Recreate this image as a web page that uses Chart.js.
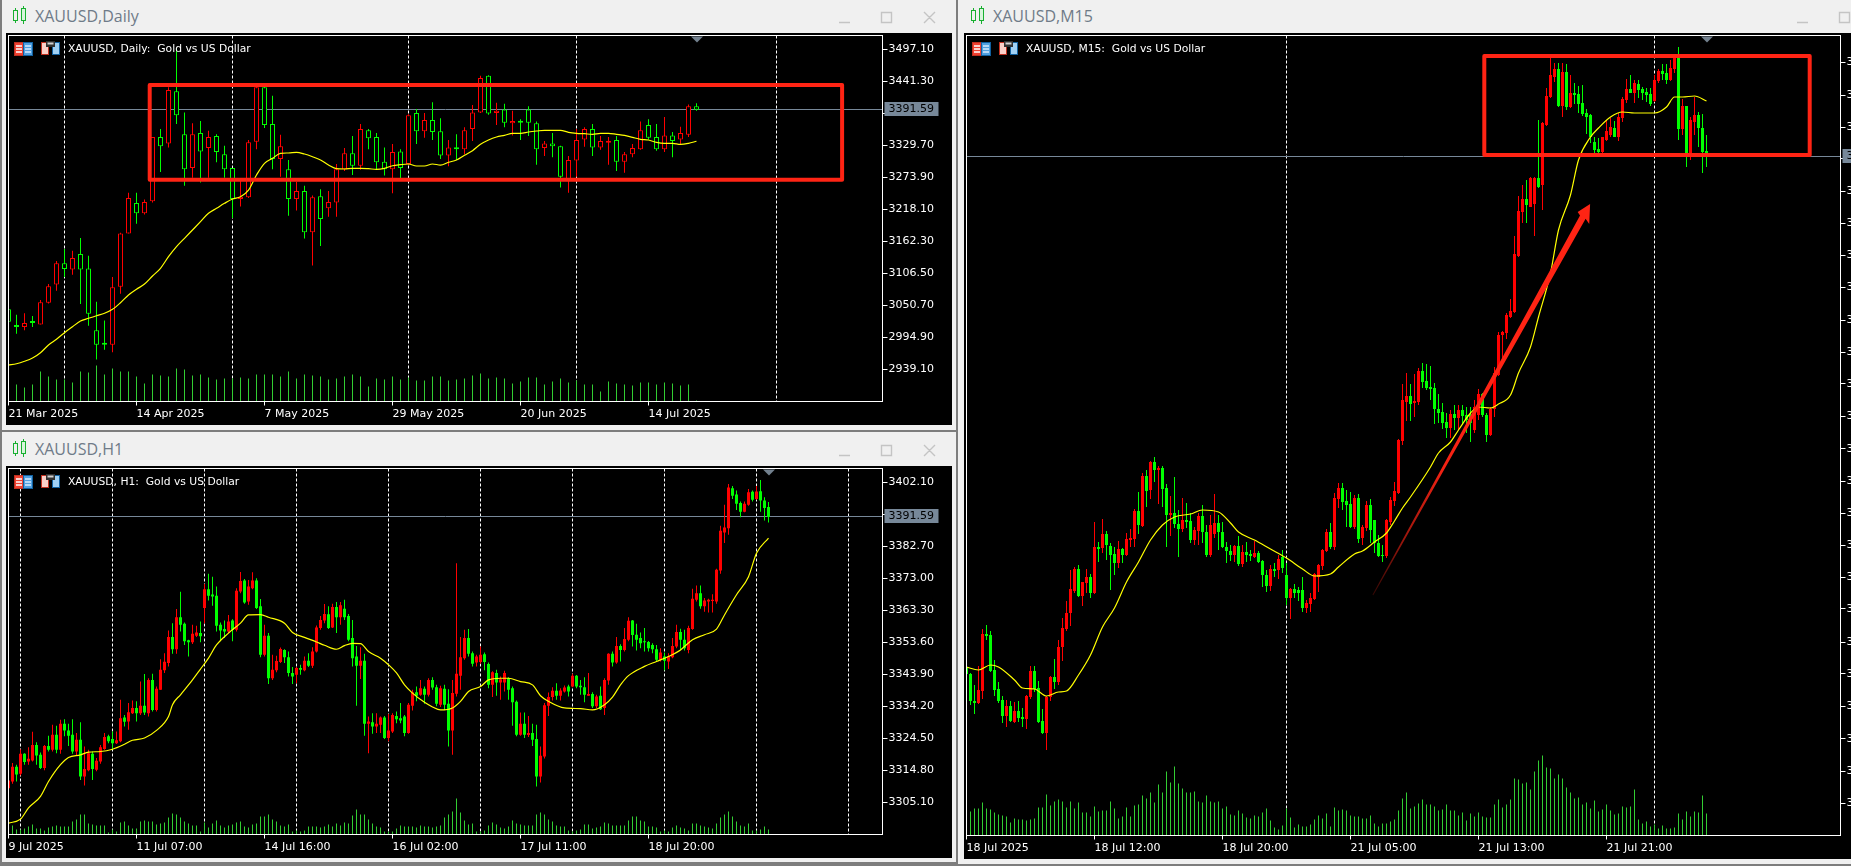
<!DOCTYPE html>
<html>
<head>
<meta charset="utf-8">
<title>XAUUSD</title>
<script src="https://cdn.jsdelivr.net/npm/chart.js@4/dist/chart.umd.js"></script>
<style>
  html, body { margin: 0; padding: 0; width: 1851px; height: 866px; overflow: hidden; background: #f0f0f0; }
  canvas { position: absolute; display: block; }
  .edge { position: absolute; background: #7d7d7d; }
  .title { position: absolute; font: 16px "Open Sans", "Noto Sans", sans-serif; color: #6f7b88; line-height: 20px; white-space: pre; }
  .label { position: absolute; font: 10.75px "DejaVu Sans", sans-serif; color: #fff; line-height: 14px; white-space: pre; }
  svg { position: absolute; overflow: visible; }
</style>
</head>
<body>
<svg width="0" height="0">
  <defs>
    <symbol id="candles" viewBox="0 0 14 18">
      <rect x="0.5" y="4.5" width="4" height="10" fill="none" stroke="#18b030"/>
      <rect x="8.5" y="2.5" width="4" height="12" fill="#d8f5dc" stroke="#18b030"/>
      <path d="M2.5 2V4M2.5 15V17M10.5 0V2M10.5 15V18" stroke="#18b030"/>
    </symbol>
    <symbol id="book" viewBox="0 0 19 14">
      <rect x="0.5" y="0.5" width="9" height="13" fill="#f04030" stroke="#c03020"/>
      <rect x="9.5" y="0.5" width="9" height="13" fill="#50a0e0" stroke="#1060a0"/>
      <path d="M2 4H8M2 7H8M2 10H8" stroke="#fff" stroke-width="1.4"/>
      <path d="M11 4H17M11 7H17M11 10H17" stroke="#d8ecff" stroke-width="1.4"/>
    </symbol>
    <symbol id="save" viewBox="0 0 19 14">
      <rect x="0.5" y="1.5" width="7" height="12" fill="#fbd0c8" stroke="#c03020"/>
      <rect x="11.5" y="1.5" width="7" height="12" fill="#a0d0f4" stroke="#1060a0"/>
      <rect x="5" y="0" width="9" height="6" fill="#303030"/>
      <rect x="6.5" y="1.5" width="6" height="2" fill="#d0d0d0"/>
    </symbol>
  </defs>
</svg>

<div class="edge" style="left:0;top:0;width:2px;height:866px"></div>
<div class="edge" style="left:0;top:430px;width:958px;height:2px"></div>
<div class="edge" style="left:956px;top:0;width:2px;height:866px"></div>
<div class="edge" style="left:0;top:862px;width:958px;height:4px"></div>
<div class="edge" style="left:958px;top:864px;width:893px;height:2px"></div>

<canvas id="dailyChart" width="946" height="392" style="left:6px;top:33px"></canvas>
<canvas id="h1Chart" width="946" height="392" style="left:6px;top:466px"></canvas>
<canvas id="m15Chart" width="887" height="826" style="left:964px;top:33px"></canvas>

<svg style="left:13px;top:6px" width="14" height="18"><use href="#candles"/></svg>
<div class="title" style="left:35px;top:6px">XAUUSD,Daily</div>
<svg style="left:13px;top:439px" width="14" height="18"><use href="#candles"/></svg>
<div class="title" style="left:35px;top:439px">XAUUSD,H1</div>
<svg style="left:971px;top:6px" width="14" height="18"><use href="#candles"/></svg>
<div class="title" style="left:993px;top:6px">XAUUSD,M15</div>

<svg style="left:839px;top:11px" width="100" height="14" stroke="#c4c4c4" stroke-width="1.4" fill="none">
  <path d="M0 11.5H11M42.5 1.5H52.5V11.5H42.5ZM85 1L96 12M96 1L85 12"/>
</svg>
<svg style="left:839px;top:444px" width="100" height="14" stroke="#c4c4c4" stroke-width="1.4" fill="none">
  <path d="M0 11.5H11M42.5 1.5H52.5V11.5H42.5ZM85 1L96 12M96 1L85 12"/>
</svg>
<svg style="left:1797px;top:11px" width="54" height="14" stroke="#c4c4c4" stroke-width="1.4" fill="none">
  <path d="M0 11.5H11M42.5 1.5H52.5V11.5H42.5Z"/>
</svg>

<svg style="left:14px;top:42px" width="19" height="14"><use href="#book"/></svg>
<svg style="left:41px;top:41px" width="19" height="14"><use href="#save"/></svg>
<div class="label" style="left:68px;top:42px">XAUUSD, Daily:  Gold vs US Dollar</div>
<svg style="left:14px;top:475px" width="19" height="14"><use href="#book"/></svg>
<svg style="left:41px;top:474px" width="19" height="14"><use href="#save"/></svg>
<div class="label" style="left:68px;top:475px">XAUUSD, H1:  Gold vs US Dollar</div>
<svg style="left:972px;top:42px" width="19" height="14"><use href="#book"/></svg>
<svg style="left:999px;top:41px" width="19" height="14"><use href="#save"/></svg>
<div class="label" style="left:1026px;top:42px">XAUUSD, M15:  Gold vs US Dollar</div>

<script>
const bidPrice = 3391.59;

// ---- Daily ----
const dailyOpen = [
  3044,3016,3013,3021,3017,3055,3087,3124,3113,3140,
  3115,3007,2983,2982,3083,3176,3229,3211,3232,3344,
  3333,3424,3349,3290,3351,3325,3346,3314,3290,3236,
  3239,3336,3431,3367,3306,3288,3236,3250,3178,3241,
  3220,3230,3288,3316,3294,3356,3344,3301,3288,3319,
  3297,3386,3354,3374,3354,3312,3326,3323,3358,3387,
  3451,3386,3392,3368,3371,3392,3368,3325,3333,3328,
  3269,3303,3340,3358,3326,3334,3339,3301,3314,3323,
  3365,3344,3323,3347,3340,3348,3398];
const dailyHigh = [
  3050,3034,3037,3032,3060,3088,3128,3149,3146,3168,
  3137,3057,3024,3100,3177,3247,3247,3235,3344,3358,
  3431,3499,3387,3368,3372,3355,3349,3329,3290,3269,
  3339,3437,3435,3416,3348,3304,3266,3259,3242,3253,
  3250,3297,3325,3346,3367,3358,3351,3326,3332,3323,
  3384,3393,3386,3405,3377,3339,3349,3361,3400,3451,
  3452,3404,3402,3390,3375,3398,3371,3337,3351,3329,
  3311,3358,3361,3367,3346,3344,3346,3318,3332,3371,
  3375,3367,3379,3353,3362,3401,3403];
const dailyLow = [
  3017,3001,3007,3013,3017,3054,3076,3100,3104,3053,
  3015,2956,2973,2969,3071,3176,3193,3209,3230,3283,
  3326,3367,3259,3273,3265,3273,3300,3273,3203,3223,
  3238,3323,3360,3288,3275,3207,3216,3167,3120,3154,
  3205,3205,3285,3278,3287,3323,3287,3277,3246,3272,
  3296,3332,3343,3339,3306,3293,3304,3314,3337,3386,
  3383,3365,3361,3347,3339,3346,3296,3311,3309,3256,
  3247,3275,3327,3311,3322,3296,3285,3282,3309,3322,
  3340,3320,3318,3309,3332,3344,3390];
const dailyClose = [
  3022,3013,3020,3020,3056,3084,3124,3114,3133,3113,
  3036,2982,2982,3082,3176,3238,3211,3231,3344,3328,
  3426,3382,3288,3349,3319,3344,3318,3288,3236,3240,
  3335,3431,3365,3306,3328,3236,3250,3178,3239,3201,
  3231,3288,3316,3294,3358,3342,3300,3288,3318,3290,
  3382,3354,3374,3353,3312,3326,3323,3356,3387,3447,
  3385,3390,3369,3372,3369,3369,3323,3333,3328,3275,
  3304,3339,3358,3326,3337,3337,3301,3314,3325,3356,
  3343,3323,3347,3337,3351,3398,3391.59];
const dailyMa = [
  2946.5,2948.8,2953,2958.7,2968,2981.4,2991.4,3002.9,3013.3,3023.3,
  3028,3032.5,3036.7,3043.7,3055.2,3068.6,3078.6,3087.8,3101.8,3115.2,
  3135.4,3152.9,3167.5,3182,3196.5,3211.1,3219.8,3228.5,3236,3240.1,
  3251.7,3277.9,3298.3,3307,3315.7,3316.3,3317.5,3314.5,3309.8,3304.1,
  3295.3,3288.9,3288.4,3289.6,3289.6,3288.9,3287.8,3289.6,3294.1,3295.9,
  3297.1,3293.6,3293.6,3297.1,3295.3,3300.1,3304.1,3312.3,3320.3,3331.4,
  3338.9,3344.2,3347.1,3350.6,3350.6,3352.9,3354.6,3355.9,3355.9,3355.9,
  3352.4,3350.6,3349.9,3348.9,3350.6,3350.6,3348.9,3347.1,3343.6,3340.2,
  3338.9,3334.9,3333.2,3333.2,3331.4,3333.2,3336.7];
const dailyMaIndex = dailyMa.map((v, i) => i);
const dailyVolume = [
  20,17,14,17,30,25,22,22,19,30,
  29,36,27,33,30,30,25,18,27,26,
  25,33,32,26,27,24,22,23,23,24,
  23,27,27,27,25,30,23,27,26,25,
  22,23,25,27,25,15,23,22,25,22,
  24,21,21,25,25,21,22,23,26,28,
  23,24,23,18,20,24,24,17,20,23,
  19,21,17,17,10,20,18,17,16,19,
  19,17,19,18,16,17,1];
const dailyPriceTicks = [3497.10,3441.30,3385.50,3329.70,3273.90,3218.10,3162.30,3106.50,3050.70,2994.90,2939.10];
const dailyTimeIndex = [0,16,32,48,64,80];
const dailyTimeLabels = ['21 Mar 2025','14 Apr 2025','7 May 2025','29 May 2025','20 Jun 2025','14 Jul 2025'];
const dailySeparators = [7,28,50,71,96];
const dailyBoxX = [17.65,104.2];
const dailyBoxY = [3434.9,3269.7];

// ---- H1 ----
const h1Open = [
  3309.4,3311.4,3315.9,3313.8,3319.8,3317.5,3317.8,3322.5,3319.5,3315.5,
  3322.2,3321,3325.6,3321,3328.9,3326.9,3325.6,3320.5,3324.1,3312.9,
  3314.8,3319.8,3315,3317.5,3321.3,3325.1,3324.3,3323,3323.6,3330.8,
  3329.6,3332.1,3333.7,3332.1,3334.4,3332.1,3342.2,3333.1,3339.2,3345.1,
  3347.3,3355.2,3351.5,3361.2,3359.2,3354.2,3353.6,3355.6,3356.4,3364,
  3369.7,3368.1,3367.7,3358.9,3357.6,3356.9,3360.2,3357.4,3369,3372.3,
  3366,3370,3372.3,3364.5,3349.8,3355.6,3342.7,3345.1,3347.6,3351.3,
  3349.1,3344.3,3343.8,3345.8,3345.1,3348,3346.5,3350.8,3357.9,3360.2,
  3362.1,3358.1,3364.3,3361.2,3363.8,3361.6,3354.9,3349.3,3346.5,3348,
  3328.9,3329.4,3328.1,3328.6,3330.8,3324.6,3326.6,3331.3,3330.6,3331.1,
  3326.1,3334.4,3338.5,3337.7,3339.5,3337.7,3342.2,3340,3334.7,3339.5,
  3335,3326.9,3338,3343.5,3348.8,3354.9,3350.3,3347.5,3347.6,3350,
  3347,3340.7,3344.3,3341.4,3341.4,3342.7,3339.7,3335.6,3325.6,3328.9,
  3325.5,3326.1,3324.3,3312.9,3319,3334.4,3337,3338.9,3337.4,3338.7,
  3340.2,3340.2,3343.5,3340.4,3340,3337.4,3337.9,3334.2,3337.4,3333.7,
  3342,3350.1,3347.5,3352.5,3351.3,3354.4,3360.2,3355.9,3354.9,3353.7,
  3353.7,3352.8,3351.5,3348.3,3349.3,3347.8,3349.1,3352.3,3356.7,3354.4,
  3351.3,3357.6,3366.5,3368.5,3364.5,3366,3366.1,3366,3375.4,3386.9,
  3388.2,3400.3,3398.4,3395.8,3393.2,3395.3,3399.2,3397,3399.4,3396.6,
  3394.6];
const h1High = [
  3312.4,3317,3316.5,3321.2,3320,3321.8,3326.5,3323.3,3320.2,3322.5,
  3325.3,3328.6,3328.3,3330.1,3330.3,3328.9,3330.3,3326.1,3329.4,3322,
  3321,3320.5,3318.5,3322.5,3326.1,3325.6,3326.6,3326.6,3336.2,3331.6,
  3335.2,3336,3335.7,3341.7,3344,3342.7,3344.1,3340.2,3348.5,3350.3,
  3357.2,3359.4,3363.7,3368.9,3359.6,3354.4,3358.9,3358.6,3359.9,3371.3,
  3374.4,3373.5,3370.5,3359.6,3360.2,3361.9,3360.6,3370,3374.9,3372.8,
  3372.5,3374.8,3373,3366.7,3358.9,3356.4,3349.8,3349.5,3352,3351.5,
  3350.8,3346.1,3346.1,3346.8,3349.3,3350.3,3352.1,3358.7,3361.6,3365.2,
  3364.5,3365.3,3365.8,3365.8,3366.5,3362.2,3360.4,3352.5,3352.1,3350.1,
  3331.1,3332.1,3332.1,3331.1,3331.3,3331.9,3332.1,3332.6,3335.2,3331.6,
  3335.2,3339.2,3340.2,3342.2,3340.2,3342.7,3343,3340.7,3340.4,3340.7,
  3339.4,3342.2,3377.6,3355.2,3357.4,3357.6,3350.8,3349.8,3352.3,3350.5,
  3347.5,3344.8,3345.3,3343.2,3345,3343,3340.2,3336,3332.3,3332.3,
  3331.3,3328.9,3328.6,3322,3335.2,3338.4,3340,3341.2,3339.7,3340.5,
  3340.7,3344.1,3343.7,3342.2,3343,3344.3,3338.5,3337.7,3340.2,3342.7,
  3350.3,3350.8,3355.2,3353,3357.9,3361.2,3360.4,3359.2,3356.6,3357.9,
  3354,3353.3,3352.8,3351.8,3350.5,3350.3,3354.9,3358.9,3357.7,3357.4,
  3358.6,3369.8,3370.8,3370.8,3367,3366.8,3368.2,3375.9,3388.9,3395.3,
  3401.6,3401,3399.6,3396.3,3396.3,3400.1,3399.6,3401,3402.8,3397.6,
  3396.1];
const h1Low = [
  3309.1,3310.7,3311.4,3313.2,3316.5,3316.5,3317.5,3316.5,3315.2,3314.8,
  3320.5,3320.5,3320,3319.8,3325.1,3322.2,3319.8,3319.2,3311.9,3310.2,
  3314.5,3311.9,3314.5,3316.8,3321,3323,3321.2,3322.8,3323.3,3328.1,
  3327.1,3331.9,3329.6,3331.6,3331.6,3331.1,3332.6,3332.6,3339.2,3344.3,
  3346.3,3350.1,3350.1,3356.9,3352.8,3349.3,3353.1,3355.2,3353.6,3359.4,
  3366.3,3364.7,3356.9,3353.9,3354.9,3356.4,3353.9,3356.9,3368.5,3365.3,
  3365,3369.7,3363.7,3349.1,3349.3,3341,3342.2,3344.5,3347.3,3347.3,
  3343.2,3341,3341.2,3343.8,3344.8,3346.1,3345.8,3350.5,3357.4,3359.4,
  3357.6,3357.9,3356.4,3358.9,3360.4,3353.9,3346.3,3334.4,3342.5,3325.3,
  3320,3325.9,3326.1,3326.1,3324.3,3323.6,3326.1,3329.1,3329.1,3325.1,
  3325.9,3332.9,3335.7,3337.4,3335,3337.2,3339.2,3334.2,3334,3333.1,
  3322,3319.5,3337.2,3339.2,3348.3,3349.3,3346.3,3346.3,3347.1,3345.1,
  3339.7,3337,3337.4,3336.2,3338.7,3336.2,3328.3,3325.1,3325.3,3324.6,
  3324.9,3322.2,3309.9,3311.1,3318.4,3331.3,3336,3336.2,3336,3338.4,
  3337.2,3340,3339.7,3337.7,3335.4,3337.4,3333.7,3333.7,3333.1,3331.6,
  3340.7,3346.3,3347.1,3347.8,3350.8,3353.9,3352.3,3351.1,3351.8,3350.8,
  3350.8,3350.3,3347.8,3347.8,3345.1,3345.5,3348.8,3351.8,3351.3,3351.1,
  3350.3,3357.4,3366,3363.8,3362.9,3362.6,3362.6,3365.3,3374.4,3383.7,
  3386.2,3397,3393.7,3391.5,3393,3395,3396.3,3396.8,3393.2,3390.5,
  3389.9];
const h1Close = [
  3311.7,3315.9,3313.5,3319.8,3317.3,3318.3,3322.5,3319.3,3315.5,3322.2,
  3321,3325.6,3321,3328.9,3326.9,3325.3,3320.5,3324.1,3312.9,3315.2,
  3320,3315.2,3317.7,3321.8,3324.9,3323.6,3323,3323.9,3330.6,3329.5,
  3332.4,3333.7,3332.1,3334.4,3332.3,3342.2,3333.1,3339.5,3345.3,3347.7,
  3355.2,3351.5,3361.2,3358.9,3353.9,3353.6,3356.2,3356.6,3355.4,3369.7,
  3367.7,3367.5,3358.6,3357.2,3356.9,3359.9,3357.4,3369.2,3372.2,3365.7,
  3370.5,3372.3,3364,3349.8,3355.6,3342.7,3345.3,3347.9,3351.6,3349.1,
  3344.3,3343.2,3345.8,3345.3,3348,3346.5,3350.8,3358.1,3360.4,3362.2,
  3357.9,3364.3,3361.2,3364.8,3361.2,3354.4,3348.8,3346.5,3348,3328.9,
  3329.6,3328.1,3328.9,3330.8,3324.6,3326.9,3331.6,3330.3,3329.9,3326.1,
  3334.7,3338.5,3337.4,3339.7,3337.7,3342.2,3339.9,3335,3339.7,3334.7,
  3326.9,3338.2,3344.1,3349.1,3354.9,3350.1,3347.1,3349.3,3349.8,3347.6,
  3340.7,3344.5,3341.4,3342.4,3344.3,3339.2,3335.4,3325.6,3328.9,3325.6,
  3326.1,3324.1,3312.9,3319.2,3334.5,3337,3338.9,3337.4,3339,3339.9,
  3338.7,3343.5,3340.2,3340,3337.7,3337.9,3334.2,3337.2,3333.3,3342.2,
  3350.1,3347.5,3352.5,3351.3,3354.6,3360.1,3355.8,3354.4,3353.3,3353.6,
  3351.8,3351.5,3348.3,3350.5,3348,3349.3,3352.5,3356.7,3354.4,3351.8,
  3357.9,3366.8,3368.5,3364.5,3366.3,3366.5,3366.5,3375.6,3387.4,3388.4,
  3400.5,3398,3395.6,3393.2,3395.6,3399.1,3396.8,3399.3,3396.6,3394.3,
  3391.59];
const h1MaIndex = [
  0,3,5,8,10,13,15,18,20,23,26,29,31,34,37,40,41,43,46,48,
  50,52,55,58,60,63,65,69,71,74,77,79,82,84,86,88,90,93,95,97,
  99,101,104,106,108,111,113,115,118,120,123,125,128,131,133,135,139,143,146,149,
  151,153,155,159,162,165,168,171,174,177,179,182,185,187,190];
const h1Ma = [
  3298.8,3300,3303.4,3306.9,3311.4,3316.5,3318.7,3319.5,3320.3,3320.5,3321.2,3322.7,3323.9,3324.6,3326.9,3331.1,3334.7,3337.7,3342.2,3345.5,
  3348.8,3352.8,3356.4,3359.4,3361.9,3362,3361.2,3359.4,3356.6,3355.1,3353.7,3352.7,3351.5,3352.6,3353.3,3353.2,3350.8,3348.8,3346.8,3344.3,
  3340.7,3338.2,3335.4,3334,3333.1,3333.7,3335.7,3338.7,3340.2,3342.2,3342.7,3342.7,3341.7,3340.7,3337.4,3335.7,3333.7,3333.5,3333.1,3334.7,
  3337,3340.7,3343.5,3346.3,3347.8,3349.3,3351.3,3354.4,3355.9,3357.6,3361.9,3368,3373.5,3380.6,3385.2];
const h1Volume = [
  5,9,5,5,6,8,10,6,6,4,7,
  8,9,8,8,8,13,15,20,20,11,
  10,9,9,9,2,5,3,12,13,9,
  6,6,13,14,13,13,10,11,12,17,
  21,20,17,13,11,9,9,3,12,7,
  11,14,9,7,9,10,12,13,8,7,
  10,11,18,18,20,15,13,9,8,10,
  3,4,3,4,8,8,8,7,8,10,
  8,11,9,12,11,19,25,20,20,15,
  11,8,7,3,3,3,6,9,8,8,
  8,7,9,8,8,7,8,9,17,20,
  23,36,22,14,10,11,3,
  3,4,9,12,10,7,6,8,14,11,
  10,9,9,9,20,22,20,15,13,9,
  8,8,4,3,4,5,10,10,6,7,
  8,12,11,9,9,9,9,14,18,18,
  14,13,8,8,7,3,4,3,7,9,
  7,6,4,11,11,9,8,7,6,11,
  17,20,23,18,13,9,8,11,4,4,
  5,8,5];
const h1PriceTicks = [3402.10,3392.40,3382.70,3373.00,3363.30,3353.60,3343.90,3334.20,3324.50,3314.80,3305.10];
const h1TimeIndex = [0,32,64,96,128,160];
const h1TimeLabels = ['9 Jul 2025','11 Jul 07:00','14 Jul 16:00','16 Jul 02:00','17 Jul 11:00','18 Jul 20:00'];
const h1Separators = [3,26,49,72,95,118,141,164,187,210];

// ---- M15 ----
const m15Open = [
  3340.5,3339.8,3337.1,3336.9,3338.1,3343.8,3343.7,3340.2,3338.3,3337.2,
  3335.6,3336.6,3335,3336.1,3335.5,3335.3,3337.5,3340.1,3338.4,3335.1,
  3333.9,3337.5,3339.5,3339,3342.5,3344.3,3345.9,3348.1,3350.3,3347.6,
  3348.9,3349.5,3347.9,3352.5,3352.4,3353.8,3352.6,3351.8,3350.9,3352.3,
  3351.7,3353.2,3353.3,3356.1,3354.6,3359.6,3358.2,3361,3360.2,3360.4,
  3358.4,3355.7,3355.9,3354.8,3354.3,3355.2,3355.1,3353.2,3354.1,3355.6,
  3354,3351.7,3353.8,3354.9,3354,3352.5,3352.1,3351.7,3352.6,3350.8,
  3352,3351.8,3351.5,3351.9,3351.1,3349.7,3348.6,3350.3,3350.2,3351.5,
  3349.7,3347.4,3348.3,3348.2,3348.2,3346.4,3346.8,3347.3,3349.5,3350.6,
  3352.1,3354,3352.5,3357.3,3358.4,3357.1,3356.8,3354.5,3357.4,3353.4,
  3354.4,3356.7,3355.2,3352.9,3351.7,3351.6,3355,3357.1,3357.9,3363.1,
  3367,3367.6,3366.9,3367,3370.1,3369.1,3368.5,3368.4,3366.3,3366,
  3365,3364.4,3365.8,3365.4,3366.2,3365.7,3365.7,3364.2,3365.7,3367.8,
  3365.7,3363.7,3366.3,3369.7,3373.7,3373.9,3375.5,3376,3381.6,3386,
  3387.3,3386.5,3386.8,3389.4,3388.7,3394.7,3397.5,3399.5,3400.3,3396.6,
  3400,3396.5,3397.9,3397.8,3396.9,3395.9,3395.7,3393,3392.3,3392,
  3393.2,3393.7,3394.4,3393.5,3395.4,3397.2,3398.3,3397.9,3398.8,3398.3,
  3398,3397.8,3397.1,3399.1,3400.1,3399.9,3399.2,3400.3,3401.5,3394.3,
  3396.6,3391.9,3395,3395.7,3394.4,3392.1];
const m15High = [
  3340.6,3339.9,3338.7,3340.6,3344.3,3344.7,3344.1,3341.2,3339,3337.6,
  3337.2,3337.1,3337,3337.1,3336.4,3337.7,3340.6,3340.6,3339.1,3336.3,
  3337.6,3339.6,3341.3,3343.2,3345.4,3347.1,3350.2,3350.5,3350.7,3349,
  3350.3,3349.8,3355,3353,3355.3,3354.1,3352.9,3352.5,3353.1,3352.4,
  3353.9,3354.3,3356.3,3358,3359.9,3360.2,3361.1,3361.5,3360.6,3360.6,
  3358.8,3357.6,3359.5,3356.2,3357.4,3356.9,3355.9,3354.5,3355.9,3356.7,
  3354.7,3355.7,3357.8,3355.7,3355,3353,3352.7,3352.7,3353.6,3352.7,
  3353,3352.2,3353.1,3352.1,3351.2,3350.2,3350.7,3350.9,3351.7,3352.2,
  3350.9,3348.4,3348.8,3348.5,3349.5,3347.2,3347.9,3349.9,3350.8,3352.3,
  3354.3,3354.9,3357.9,3358.9,3358.9,3358.2,3358,3357.7,3357.8,3354.7,
  3357.1,3357.3,3355.2,3353.7,3352.7,3355.3,3357.5,3359,3363.3,3368.8,
  3369.9,3368.8,3369.8,3370.4,3370.9,3370.8,3370.6,3368.9,3367.8,3366.9,
  3365.9,3366.2,3366.7,3366.7,3366.7,3366.5,3366.5,3367.2,3368.3,3367.9,
  3365.9,3366.5,3370.5,3374,3374.1,3375.9,3377.3,3383.6,3387.6,3388.7,
  3389.2,3389.5,3389.5,3395.2,3395,3398.4,3401.5,3400.9,3400.9,3400.9,
  3400.8,3399.7,3398.9,3398.6,3398.7,3396.3,3395.8,3393.5,3393.4,3393.5,
  3395.2,3395.4,3395.1,3395.9,3397.5,3399.3,3399.7,3399.2,3399.2,3398.5,
  3398.4,3398.4,3399.7,3400.3,3400.8,3400.8,3401.2,3401.7,3402.5,3397.3,
  3396.6,3395.5,3397.5,3396,3395.8,3393.7];
const m15Low = [
  3338.9,3336.7,3335.8,3336.8,3337.3,3343.2,3340,3337.6,3336.9,3334.9,
  3334.5,3335,3334.9,3335,3334.5,3334.3,3337.3,3338,3334.9,3333.8,
  3332.2,3337.1,3338.3,3338.7,3341.1,3344.1,3344.6,3347.9,3347.5,3346.6,
  3347.9,3347.4,3347.8,3351,3351.9,3351.2,3348.2,3349.7,3350.4,3350.9,
  3351.6,3352.5,3352.5,3353.8,3354.5,3356.5,3357.3,3359,3356.8,3356.5,
  3352.5,3353.6,3354.4,3351.5,3354,3354.4,3352.9,3352.7,3352.7,3352.9,
  3351.5,3351.5,3353.4,3352.2,3352.4,3350.9,3351.1,3351,3350.6,3350.5,
  3351,3351.1,3351.4,3350.9,3348.5,3348,3348.1,3349.5,3349.3,3349.9,
  3346.7,3345.3,3347.4,3347.1,3346,3345.9,3346,3347.2,3348,3350.2,
  3352,3352.3,3352.2,3356.4,3356.2,3354.5,3354.4,3354.3,3352.9,3352.7,
  3354.1,3352.9,3351.9,3351.5,3351,3351.4,3354.7,3356.6,3357.8,3362.7,
  3365.1,3365.1,3365.5,3366.7,3368.4,3368.2,3367.2,3364.8,3364.9,3364.3,
  3363.4,3363.4,3364.2,3364.2,3364.7,3363.9,3363,3363.9,3365.2,3365.5,
  3363,3363.6,3365.5,3369.6,3371.4,3373.3,3375.4,3375.9,3381.5,3384.9,
  3384.9,3386.5,3383.6,3388.4,3386.2,3394.6,3397.4,3399,3396.5,3395.5,
  3396.2,3396.4,3396.8,3395.9,3395.6,3393.8,3392.9,3391.5,3391.9,3391.9,
  3393.1,3393.5,3393.5,3393.1,3395,3396.9,3397.9,3396.9,3397.4,3397.2,
  3397,3396.6,3397,3398.9,3399.2,3398.8,3399.1,3399.9,3393.2,3393.7,
  3390.5,3391.2,3393.7,3392.5,3389.9,3390.5];
const m15Close = [
  3339.8,3337.1,3336.9,3338.2,3343.8,3343.6,3340.1,3338.2,3337.1,3335.6,
  3336.6,3335.1,3336.1,3335.4,3335.3,3337.6,3340.1,3338.3,3335,3333.9,
  3337.5,3339.5,3339,3342.5,3344.4,3345.9,3348.3,3350.3,3347.6,3349,
  3349.5,3347.9,3352.5,3352.3,3353.8,3352.7,3351.7,3350.9,3352.3,3351.7,
  3353.3,3353.4,3356.1,3354.7,3359.6,3358.1,3361,3360.2,3360.4,3358.3,
  3355.7,3355.9,3354.8,3354.3,3355.2,3355,3353.2,3354.2,3355.6,3354,
  3351.7,3354.7,3354.9,3354,3352.5,3352.1,3351.7,3352.6,3350.8,3352,
  3351.7,3351.6,3351.9,3351,3349.7,3348.6,3350.3,3350.1,3351.3,3350.4,
  3347.4,3348.3,3347.9,3347.9,3346.4,3346.9,3347.4,3349.8,3350.7,3352.2,
  3354,3352.5,3357.4,3358.4,3357,3356.7,3354.5,3357.4,3353.3,3354.5,
  3356.7,3354.2,3352.9,3351.6,3351.6,3355.2,3357.2,3358.1,3363.2,3367.2,
  3367.6,3366.8,3367.1,3370.1,3369,3368.4,3368.3,3366.3,3365.9,3364.9,
  3364.4,3365.8,3365.4,3366.2,3365.6,3365.2,3364.9,3366.5,3367.8,3365.7,
  3363.7,3366.3,3369.9,3373.7,3374,3375.7,3376.1,3381.8,3386.1,3387.3,
  3386.7,3389.4,3389.4,3388.5,3394.9,3397.6,3399.7,3400.3,3396.6,3400,
  3396.5,3397.9,3397.7,3396.8,3395.8,3395.5,3393.5,3392.2,3392,3393.5,
  3394.1,3394.5,3393.5,3395.5,3397.3,3398.3,3397.9,3398.9,3398.2,3397.9,
  3397.7,3396.8,3399.2,3400.1,3399.8,3399.2,3400.4,3401.5,3394.3,3396.6,
  3391.9,3395.2,3395.7,3394.4,3392,3391.59];
const m15MaIndex = [
  0,3,6,8,12,14,17,20,23,25,28,31,34,37,40,43,46,49,52,56,
  59,63,66,68,72,76,80,84,87,91,93,97,99,102,105,107,109,111,116,118,
  121,123,126,128,131,133,136,138,141,143,146,148,151,153,156,158,161,164,167,172,
  175,177,179,182,185];
const m15Ma = [
  3340.5,3340.2,3340.7,3340.5,3339.2,3338.4,3338.3,3337.6,3338,3338.1,3339.7,3341.7,3344.5,3346.4,3349,3351,3353.2,3354.7,3355.5,3355.8,
  3356.2,3356,3354.9,3354,3353.2,3352.3,3351.4,3350.3,3349.6,3349.8,3350.5,3351.8,3352.1,3353,3353.9,3355.1,3356.4,3357.5,3360.5,3361.9,
  3363,3364.2,3365.9,3366.5,3366.4,3366.8,3367.7,3369.9,3372.5,3375.5,3379.9,3384.2,3387.7,3391.2,3393.5,3394.4,3395.5,3396,3395.9,3395.9,
  3396.5,3397.5,3397.5,3397.6,3397.1];
const m15Volume = [
  20,24,27,27,33,27,26,23,21,20,19,
  13,17,16,16,15,16,17,28,28,41,
  30,34,36,34,28,34,27,33,23,23,
  19,29,24,25,25,34,27,17,19,28,
  19,30,31,40,37,43,33,51,43,64,
  53,69,52,47,43,43,44,34,33,40,
  34,33,34,27,29,21,20,25,22,18,
  17,20,19,23,27,15,8,6,10,27,
  18,8,11,9,9,11,16,20,17,22,
  9,28,25,26,25,20,19,19,17,17,
  20,12,9,12,12,14,16,25,37,43,
  27,29,32,36,31,31,29,25,26,31,
  25,25,20,23,15,22,19,23,19,18,
  18,31,36,28,31,36,57,56,52,53,
  46,64,75,80,68,67,57,61,57,48,
  43,37,38,31,33,27,35,24,26,31,
  25,21,22,29,28,29,46,16,12,14,
  9,11,7,10,7,7,8,22,16,24,
  19,24,23,40,22];
const m15PriceTicks = [3401,3397.7,3394.5,3391.3,3388.1,3384.9,3381.7,3378.5,3375.2,3372,3368.8,3365.6,3362.3,3359.1,3355.9,3352.7,3349.5,3346.3,3343,3339.8,3336.6,3333.3,3330.1,3326.9];
const m15TimeIndex = [0,32,64,96,128,160];
const m15TimeLabels = ['18 Jul 2025','18 Jul 12:00','18 Jul 20:00','21 Jul 05:00','21 Jul 13:00','21 Jul 21:00'];
const m15Separators = [80,172];
const m15BoxX = [129.45,210.8];
const m15BoxY = [3401.6,3391.7];
const m15ArrowX = [101.6,155.9];
const m15ArrowY = [3347.7,3386.8];

const RED = '#ff0000', GREEN = '#00ff00', BOX_RED = '#ff2414';
const AXIS_FONT = { family: '"DejaVu Sans", sans-serif', size: 11 };

// dashed period lines, bid line and the rest of the terminal furniture, placed through the scales
const terminalPlugin = {
  id: 'terminal',
  beforeDatasetsDraw(chart, args, o) {
    const { ctx, chartArea: a, scales: { x, y } } = chart;
    ctx.save();
    ctx.strokeStyle = '#fff';
    ctx.lineWidth = 1;
    ctx.setLineDash([3, 2]);
    o.separators.forEach(v => {
      const px = Math.floor(x.getPixelForValue(v)) + 0.5;
      ctx.beginPath();
      ctx.moveTo(px, a.top);
      ctx.lineTo(px, a.bottom);
      ctx.stroke();
    });
    ctx.setLineDash([]);
    const by = Math.floor(y.getPixelForValue(bidPrice)) + 0.5;
    ctx.strokeStyle = '#778899';
    ctx.beginPath();
    ctx.moveTo(a.left, by);
    ctx.lineTo(a.right, by);
    ctx.stroke();
    ctx.restore();
  },
  afterDatasetsDraw(chart, args, o) {
    const { ctx, chartArea: a, scales: { x, y } } = chart;
    ctx.save();
    if (o.arrowX) drawArrow(ctx, x, y, o.arrowX, o.arrowY);
    ctx.strokeStyle = '#fff';
    ctx.lineWidth = 1;
    ctx.strokeRect(a.left, a.top, a.right - a.left, a.bottom - a.top);
    // bid price tag
    const by = Math.floor(y.getPixelForValue(bidPrice)) + 0.5;
    ctx.fillStyle = '#778899';
    ctx.fillRect(a.right + 2, by - 7.5, 54, 14);
    ctx.fillStyle = '#000';
    ctx.font = '11px "DejaVu Sans", sans-serif';
    ctx.textBaseline = 'middle';
    ctx.fillText(bidPrice.toFixed(2), a.right + 6, by);
    // shift marker over the last bar
    const tx = Math.round(x.getPixelForValue(o.lastIndex));
    ctx.fillStyle = '#72808e';
    ctx.beginPath();
    ctx.moveTo(tx - 6, a.top + 1);
    ctx.lineTo(tx + 6, a.top + 1);
    ctx.lineTo(tx, a.top + 7);
    ctx.closePath();
    ctx.fill();
    ctx.restore();
  }
};

function drawArrow(ctx, x, y, ax, ay) {
  const x0 = x.getPixelForValue(ax[0]), y0 = y.getPixelForValue(ay[0]);
  const x1 = x.getPixelForValue(ax[1]), y1 = y.getPixelForValue(ay[1]);
  const len = Math.hypot(x1 - x0, y1 - y0);
  const ux = (x1 - x0) / len, uy = (y1 - y0) / len, nx = -uy, ny = ux;
  const at = (d, w) => [x0 + ux * d + nx * w, y0 + uy * d + ny * w];
  const headBase = len - 15;
  const pts = [at(0, 0.5), at(headBase, 3.2), at(headBase - 3, 9), at(len, 0), at(headBase + 2, -7), at(headBase, -3.2), at(0, -0.5)];
  const grad = ctx.createLinearGradient(x0, y0, x1, y1);
  grad.addColorStop(0, 'rgba(255,36,20,0.2)');
  grad.addColorStop(0.14, 'rgba(255,36,20,0.6)');
  grad.addColorStop(0.32, 'rgba(255,36,20,0.95)');
  grad.addColorStop(0.45, BOX_RED);
  grad.addColorStop(1, BOX_RED);
  ctx.fillStyle = grad;
  ctx.beginPath();
  pts.forEach((p, i) => i ? ctx.lineTo(p[0], p[1]) : ctx.moveTo(p[0], p[1]));
  ctx.closePath();
  ctx.fill();
}

function buildChart(id, s) {
  const colors = s.open.map((v, i) => (s.close[i] >= v ? RED : GREEN));
  const datasets = [
    { label: 'volume', type: 'bar', order: 6, yAxisID: 'yVol', grouped: false, barThickness: 1, inflateAmount: 0,
      backgroundColor: '#32cd32', data: s.volume.map((v, i) => ({ x: i, y: v })) },
    { label: 'wick', type: 'bar', order: 5, grouped: false, barThickness: 1, inflateAmount: 0,
      backgroundColor: colors, data: s.high.map((v, i) => ({ x: i, y: [s.low[i], v] })) },
    { label: 'body', type: 'bar', order: 4, grouped: false, barThickness: s.bodyWidth, inflateAmount: 0,
      minBarLength: s.hollow ? 2 : 1,
      backgroundColor: s.hollow ? '#000' : colors,
      borderColor: colors, borderWidth: s.hollow ? 1 : 0, borderSkipped: false,
      data: s.open.map((v, i) => ({ x: i, y: [v, s.close[i]] })) },
    { label: 'MA', type: 'line', order: 3, borderColor: '#ffff00', borderWidth: 1.2, pointRadius: 0,
      cubicInterpolationMode: 'monotone',
      data: s.maIndex.map((v, i) => ({ x: v, y: s.ma[i] })) }
  ];
  if (s.boxX) {
    datasets.push({ label: 'box', type: 'line', order: 1, borderColor: BOX_RED, borderWidth: 4, pointRadius: 0, tension: 0,
      borderJoinStyle: 'round', borderCapStyle: 'round', clip: false,
      data: [
        { x: s.boxX[0], y: s.boxY[0] }, { x: s.boxX[1], y: s.boxY[0] },
        { x: s.boxX[1], y: s.boxY[1] }, { x: s.boxX[0], y: s.boxY[1] },
        { x: s.boxX[0], y: s.boxY[0] }
      ] });
  }
  return new Chart(document.getElementById(id), {
    type: 'bar',
    data: { datasets },
    plugins: [terminalPlugin],
    options: {
      responsive: false,
      animation: false,
      devicePixelRatio: 1,
      events: [],
      layout: { padding: { left: s.padLeft, top: s.padTop, right: 0, bottom: 0 } },
      plugins: {
        legend: { display: false },
        tooltip: { enabled: false },
        terminal: { separators: s.separators, lastIndex: s.open.length - 1, arrowX: s.arrowX, arrowY: s.arrowY }
      },
      scales: {
        x: {
          type: 'linear', offset: false, min: 0, max: s.xMax,
          afterBuildTicks: sc => { sc.ticks = s.timeIndex.map(v => ({ value: v })); },
          afterFit: sc => { sc.height = s.axisHeight; sc.paddingLeft = 0; sc.paddingRight = 0; },
          grid: { offset: false, drawOnChartArea: false, tickLength: 4, color: '#fff' },
          border: { display: false },
          ticks: { align: 'start', autoSkip: false, maxRotation: 0, color: '#fff', font: AXIS_FONT, padding: 2,
            callback: (v, i) => s.timeLabels[i] }
        },
        y: {
          position: 'right', min: s.yMin, max: s.yMax,
          afterBuildTicks: sc => { sc.ticks = s.priceTicks.map(v => ({ value: v })); },
          afterFit: sc => { sc.width = s.axisWidth; sc.paddingTop = 0; sc.paddingBottom = 0; },
          grid: { drawOnChartArea: false, tickLength: 5, color: '#fff' },
          border: { display: false },
          ticks: { autoSkip: false, color: '#fff', font: AXIS_FONT, padding: 1, callback: v => v.toFixed(2) }
        },
        yVol: { display: false, min: 0, max: s.volMax }
      }
    }
  });
}

document.querySelectorAll('canvas').forEach(c => { c.style.background = '#000'; });

buildChart('dailyChart', {
  open: dailyOpen, high: dailyHigh, low: dailyLow, close: dailyClose, ma: dailyMa, maIndex: dailyMaIndex, volume: dailyVolume,
  priceTicks: dailyPriceTicks, timeIndex: dailyTimeIndex, timeLabels: dailyTimeLabels, separators: dailySeparators,
  boxX: dailyBoxX, boxY: dailyBoxY,
  bodyWidth: 5, hollow: true, xMax: 109.25, yMin: 2882.9, yMax: 3521.2, volMax: 366,
  padLeft: 2.5, padTop: 2.5, axisWidth: 69.5, axisHeight: 23.5
});
buildChart('h1Chart', {
  open: h1Open, high: h1High, low: h1Low, close: h1Close, ma: h1Ma, maIndex: h1MaIndex, volume: h1Volume,
  priceTicks: h1PriceTicks, timeIndex: h1TimeIndex, timeLabels: h1TimeLabels, separators: h1Separators,
  bodyWidth: 3, hollow: false, xMax: 218.5, yMin: 3295.35, yMax: 3406.28, volMax: 366,
  padLeft: 2.5, padTop: 2.5, axisWidth: 69.5, axisHeight: 23.5
});
buildChart('m15Chart', {
  open: m15Open, high: m15High, low: m15Low, close: m15Close, ma: m15Ma, maIndex: m15MaIndex, volume: m15Volume,
  priceTicks: m15PriceTicks, timeIndex: m15TimeIndex, timeLabels: m15TimeLabels, separators: m15Separators,
  boxX: m15BoxX, boxY: m15BoxY, arrowX: m15ArrowX, arrowY: m15ArrowY,
  bodyWidth: 3, hollow: false, xMax: 218.5, yMin: 3323.65, yMax: 3403.65, volMax: 800,
  padLeft: 2.5, padTop: 2.5, axisWidth: 10.5, axisHeight: 23.5
});
</script>
</body>
</html>
